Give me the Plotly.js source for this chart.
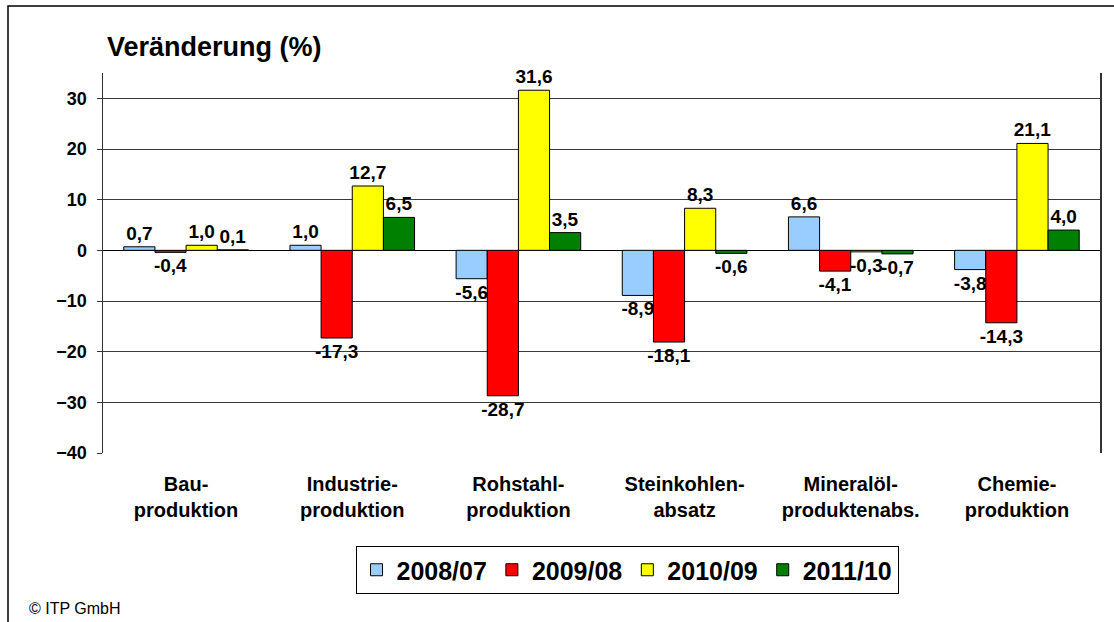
<!DOCTYPE html>
<html>
<head>
<meta charset="utf-8">
<script src="https://cdn.plot.ly/plotly-3.0.1.min.js"></script>
<style>
html,body{margin:0;padding:0;background:#fff;}
#chart{width:1114px;height:622px;}
</style>
</head>
<body>
<div id="chart"></div>
<script>
const categories = ["Bau-<br>produktion", "Industrie-<br>produktion", "Rohstahl-<br>produktion", "Steinkohlen-<br>absatz", "Mineralöl-<br>produktenabs.", "Chemie-<br>produktion"];
const seriesNames = ["2008/07", "2009/08", "2010/09", "2011/10"];
const s2008 = [0.7, 1.0, -5.6, -8.9, 6.6, -3.8];
const s2009 = [-0.4, -17.3, -28.7, -18.1, -4.1, -14.3];
const s2010 = [1.0, 12.7, 31.6, 8.3, -0.3, 21.1];
const s2011 = [0.1, 6.5, 3.5, -0.6, -0.7, 4.0];
const colors = ["#99CCFF", "#FF0000", "#FFFF00", "#008000"];
const allSeries = [s2008, s2009, s2010, s2011];

const FONT = "Liberation Sans, Arial, sans-serif";

const traces = allSeries.map((vals, i) => ({
  type: "bar",
  name: seriesNames[i],
  x: categories,
  y: vals,
  marker: {color: colors[i], line: {color: "#000", width: 1}},
  text: vals.map(v => v.toFixed(1).replace(".", ",")),
  textposition: "outside",
  constraintext: "none",
  cliponaxis: false,
  textfont: {family: FONT, size: 19, color: "#000", weight: "bold"},
  hoverinfo: "none"
}));

const layout = {
  width: 1114,
  height: 622,
  margin: {l: 103, r: 14, t: 73, b: 169},
  paper_bgcolor: "#fff",
  plot_bgcolor: "#fff",
  barmode: "group",
  bargap: 0.25,
  bargroupgap: 0,
  font: {family: FONT, color: "#000"},
  title: {
    text: "<b>Veränderung (%)</b>",
    font: {family: FONT, size: 27, color: "#000"},
    xref: "paper", x: 0.004, xanchor: "left",
    yref: "container", y: 1 - 47/622, yanchor: "middle"
  },
  xaxis: {
    type: "category",
    showgrid: false,
    showline: false,
    zeroline: false,
    ticks: "",
    tickfont: {family: FONT, size: 20, color: "#000", weight: "bold"},
    ticklabelstandoff: 17,
    fixedrange: true
  },
  yaxis: {
    range: [-40, 35],
    tickvals: [-40, -30, -20, -10, 0, 10, 20, 30],
    showgrid: true,
    gridcolor: "#3a3a3a",
    gridwidth: 1,
    zeroline: true,
    zerolinecolor: "#000",
    zerolinewidth: 1,
    showline: true,
    linecolor: "#333",
    linewidth: 1.5,
    mirror: true,
    ticks: "outside",
    ticklen: 5,
    tickcolor: "#333",
    tickfont: {family: FONT, size: 18, color: "#000", weight: "bold"},
    ticklabelstandoff: 6,
    fixedrange: true
  },
  showlegend: true,
  legend: {
    orientation: "h",
    x: (627 - 103) / 997, xanchor: "center",
    y: (453 - 546) / 380, yanchor: "top",
    bordercolor: "#000",
    borderwidth: 1,
    bgcolor: "#fff",
    font: {family: FONT, size: 25, color: "#000", weight: "bold"},
    traceorder: "normal",
    itemwidth: 30
  },
  shapes: [{
    type: "rect", xref: "paper", yref: "paper",
    x0: (8 - 103) / 997, x1: (1125 - 103) / 997,
    y0: (453 - 640) / 380, y1: (453 - 6) / 380,
    line: {color: "#000", width: 1.5},
    layer: "below"
  }],
  annotations: [{
    text: "© ITP GmbH",
    xref: "paper", yref: "paper",
    x: (27 - 103) / 997, xanchor: "left",
    y: (453 - 608) / 380, yanchor: "middle",
    showarrow: false,
    font: {family: FONT, size: 16, color: "#000"}
  }]
};

Plotly.newPlot("chart", traces, layout, {displayModeBar: false, staticPlot: true});
</script>
</body>
</html>
